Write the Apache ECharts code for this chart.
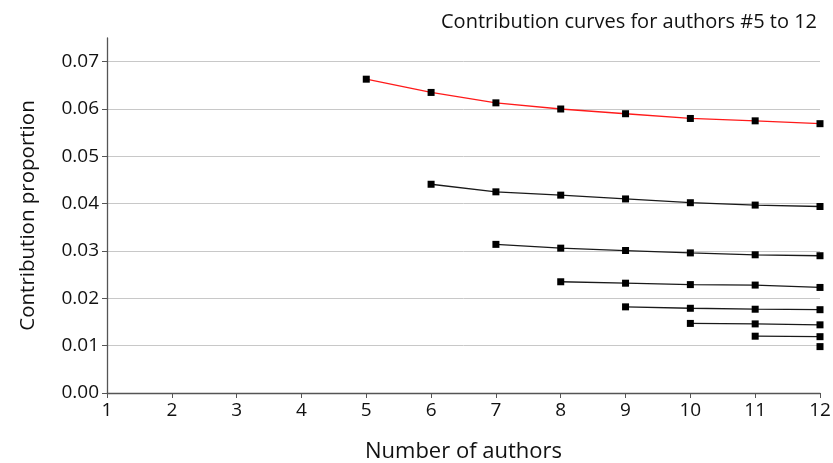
<!DOCTYPE html>
<html>
<head>
<meta charset="utf-8">
<script src="https://cdn.jsdelivr.net/npm/echarts@6/dist/echarts.min.js"></script>
<style>
  html, body { margin: 0; padding: 0; background: #fff; }
  #chart { width: 833px; height: 463px; }
</style>
</head>
<body>
<div id="chart"></div>
<script>
// Number of authors on the paper (x positions)
const authorCounts = [5, 6, 7, 8, 9, 10, 11, 12];

// Contribution proportion of author #k for each paper size n >= k
const author5 = [0.0663, 0.0635, 0.0613, 0.0600, 0.0590, 0.0580, 0.0575, 0.0569];
const author6 = [0.0441, 0.0425, 0.0418, 0.0410, 0.0402, 0.0397, 0.0394];
const author7 = [0.0314, 0.0306, 0.0301, 0.0296, 0.0292, 0.0290];
const author8 = [0.0235, 0.0232, 0.0229, 0.0228, 0.0223];
const author9 = [0.0182, 0.0179, 0.0177, 0.0176];
const author10 = [0.0147, 0.0146, 0.0144];
const author11 = [0.0120, 0.0119];
const author12 = [0.0098];

const curves = [author5, author6, author7, author8, author9, author10, author11, author12];

// Axis tick values
const xTicks = [1, 2, 3, 4, 5, 6, 7, 8, 9, 10, 11, 12];
const yTicks = [0, 0.01, 0.02, 0.03, 0.04, 0.05, 0.06, 0.07];

const FONT = '"Open Sans", sans-serif';

function curveSeries(values, idx) {
  const start = authorCounts.length - values.length;
  const pts = values.map((v, i) => [authorCounts[start + i], v]);
  return {
    type: 'line',
    name: 'Author #' + (5 + idx),
    data: pts,
    symbol: 'rect',
    symbolSize: 7,
    showSymbol: true,
    smooth: false,
    lineStyle: { color: idx === 0 ? '#ff1a1a' : '#1a1a1a', width: 1.3 },
    itemStyle: { color: '#000' },
    z: 3,
    animation: false
  };
}

const chart = echarts.init(document.getElementById('chart'), null, { renderer: 'canvas' });
chart.setOption({
  backgroundColor: '#fff',
  animation: false,
  title: {
    text: 'Contribution curves for authors #5 to 12',
    right: 11,
    top: 7,
    textStyle: { fontFamily: FONT, fontSize: 20, fontWeight: 'normal', color: '#111' }
  },
  grid: { left: 107, right: 13, top: 38, bottom: 70, containLabel: false, outerBoundsMode: 'none' },
  xAxis: {
    type: 'value',
    min: 1,
    max: 12,
    interval: 1,
    name: 'Number of authors',
    nameLocation: 'middle',
    nameGap: 48,
    nameTextStyle: { fontFamily: FONT, fontSize: 22, color: '#111' },
    axisLine: { show: true, lineStyle: { color: '#555', width: 1.3 } },
    axisTick: { show: true, length: 5, lineStyle: { color: '#555' }, customValues: xTicks },
    axisLabel: { fontFamily: FONT, fontSize: 19, color: '#111', margin: 8, customValues: xTicks },
    splitLine: { show: false }
  },
  yAxis: {
    type: 'value',
    min: 0,
    max: 0.075,
    interval: 0.01,
    name: 'Contribution proportion',
    nameLocation: 'middle',
    nameGap: 68,
    nameTextStyle: { fontFamily: FONT, fontSize: 20.5, color: '#111' },
    axisLine: { show: true, lineStyle: { color: '#555', width: 1.3 } },
    axisTick: { show: true, length: 5, lineStyle: { color: '#555' }, customValues: yTicks },
    axisLabel: {
      fontFamily: FONT, fontSize: 19, color: '#111', margin: 8,
      customValues: yTicks,
      formatter: v => v.toFixed(2)
    },
    splitLine: { show: true, lineStyle: { color: '#c8c8c8', width: 1 } }
  },
  series: curves.map(curveSeries)
});
</script>
</body>
</html>
